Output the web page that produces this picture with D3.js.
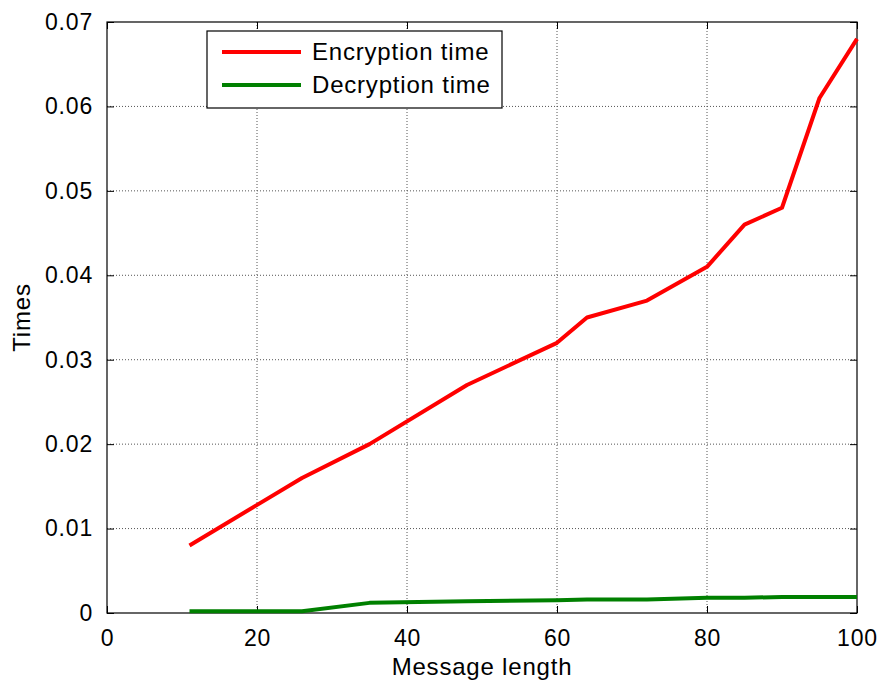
<!DOCTYPE html>
<html>
<head>
<meta charset="utf-8">
<script src="https://cdn.jsdelivr.net/npm/d3@7"></script>
<style>
  body { margin: 0; background: #fff; }
  svg text { font-family: "Liberation Sans", Arial, sans-serif; fill: #000; }
</style>
</head>
<body>
<svg id="chart" width="881" height="686"></svg>
<script>
const width = 881;
const height = 686;

// Data
const messageLength = [11, 26, 35, 48, 60, 64, 72, 80, 85, 90, 95, 100];
const encryptionTime = [0.008, 0.016, 0.020, 0.027, 0.032, 0.035, 0.037, 0.041, 0.046, 0.048, 0.061, 0.068];
const decryptionTime = [0.0002, 0.0002, 0.0012, 0.0014, 0.0015, 0.0016, 0.0016, 0.0018, 0.0018, 0.0019, 0.0019, 0.0019];
const xTicks = [0, 20, 40, 60, 80, 100];
const yTicks = [0, 0.01, 0.02, 0.03, 0.04, 0.05, 0.06, 0.07];
const seriesNames = ["Encryption time", "Decryption time"];
const seriesColors = ["#ff0000", "#008000"];

const margin = { top: 22, right: 24, bottom: 73, left: 107 };
const plotW = width - margin.left - margin.right;
const plotH = height - margin.top - margin.bottom;

const svg = d3.select("#chart");
const g = svg.append("g").attr("transform", `translate(${margin.left},${margin.top})`);

const x = d3.scaleLinear().domain([0, 100]).range([0, plotW]);
const y = d3.scaleLinear().domain([0, 0.07]).range([plotH, 0]);

// grid
g.append("g")
  .selectAll("line")
  .data(xTicks.slice(1, -1))
  .join("line")
  .attr("x1", d => x(d)).attr("x2", d => x(d))
  .attr("y1", 0).attr("y2", plotH)
  .attr("stroke", "#555").attr("stroke-dasharray", "1,2").attr("stroke-width", 1);

g.append("g")
  .selectAll("line")
  .data(yTicks.slice(1, -1))
  .join("line")
  .attr("y1", d => y(d)).attr("y2", d => y(d))
  .attr("x1", 0).attr("x2", plotW)
  .attr("stroke", "#555").attr("stroke-dasharray", "1,2").attr("stroke-width", 1);

// axes with inward ticks
const tickLen = 7;
const fmtY = d => d === 0 ? "0" : d3.format(".2f")(d);

const xAxis = g.append("g")
  .attr("transform", `translate(0,${plotH})`)
  .call(d3.axisBottom(x).tickValues(xTicks).tickSize(-tickLen).tickPadding(tickLen + 10));
const xAxisTop = g.append("g")
  .call(d3.axisTop(x).tickValues(xTicks).tickSize(-tickLen).tickFormat(""));
const yAxis = g.append("g")
  .call(d3.axisLeft(y).tickValues(yTicks).tickSize(-tickLen).tickPadding(tickLen + 7).tickFormat(fmtY));
const yAxisRight = g.append("g")
  .attr("transform", `translate(${plotW},0)`)
  .call(d3.axisRight(y).tickValues(yTicks).tickSize(-tickLen).tickFormat(""));

[xAxis, xAxisTop, yAxis, yAxisRight].forEach(a => {
  a.select(".domain").remove();
  a.selectAll(".tick line").attr("stroke", "#000");
  a.selectAll("text")
    .style("font-size", "23px")
    .style("letter-spacing", "0.8px")
    .attr("fill", "#000");
});

// frame
g.append("rect")
  .attr("width", plotW).attr("height", plotH)
  .attr("fill", "none").attr("stroke", "#000").attr("stroke-width", 1.2);

// lines
const line = d3.line()
  .x((d, i) => x(messageLength[i]))
  .y(d => y(d));

[encryptionTime, decryptionTime].forEach((s, i) => {
  g.append("path")
    .datum(s)
    .attr("d", line)
    .attr("fill", "none")
    .attr("stroke", seriesColors[i])
    .attr("stroke-width", 4)
    .attr("stroke-linejoin", "round");
});

// legend
const legend = g.append("g").attr("transform", `translate(${207 - margin.left},${31 - margin.top})`);
legend.append("rect")
  .attr("width", 295).attr("height", 77)
  .attr("fill", "#fff").attr("stroke", "#000").attr("stroke-width", 1.2);

seriesNames.forEach((name, i) => {
  const ly = 21 + i * 33;
  legend.append("line")
    .attr("x1", 15).attr("x2", 94)
    .attr("y1", ly).attr("y2", ly)
    .attr("stroke", seriesColors[i]).attr("stroke-width", 4);
  legend.append("text")
    .attr("x", 105).attr("y", ly)
    .attr("dy", "0.35em")
    .style("font-size", "24px")
    .style("letter-spacing", "0.8px")
    .text(name);
});

// axis labels
svg.append("text")
  .attr("x", margin.left + plotW / 2)
  .attr("y", 675)
  .attr("text-anchor", "middle")
  .style("font-size", "24px")
  .style("letter-spacing", "0.8px")
  .text("Message length");

svg.append("text")
  .attr("transform", `translate(30,${margin.top + plotH / 2}) rotate(-90)`)
  .attr("text-anchor", "middle")
  .style("font-size", "24px")
  .style("letter-spacing", "0.8px")
  .text("Times");
</script>
</body>
</html>
